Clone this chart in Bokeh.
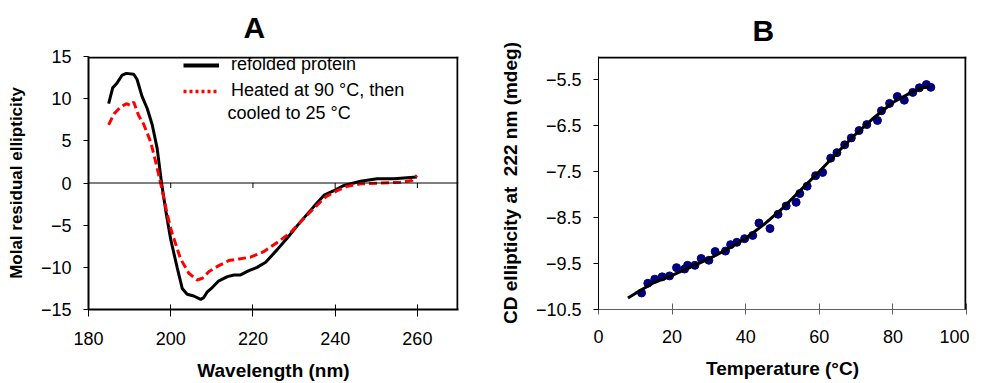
from bokeh.plotting import figure
from bokeh.models import Range1d, FixedTicker, Span, Label, Legend, LegendItem
from bokeh.layouts import row
from bokeh.embed import file_html
from bokeh.resources import INLINE

FONT = "Liberation Sans"

# ---------------- Panel A data ----------------
wl_refolded = [184.9, 185.9, 187.0, 188.2, 189.2, 191.0, 191.8, 193.0, 194.3, 195.5,
               196.7, 197.8, 198.9, 200.0, 201.6, 202.8, 204.0, 205.6, 207.3, 208.0,
               208.9, 210.1, 211.7, 213.8, 215.4, 217.0, 219.0, 221.0, 223.1, 225.9,
               228.4, 231.4, 234.8, 237.3, 239.7, 242.1, 246.2, 250.2, 254.3, 259.9]
mre_refolded = [9.4, 11.3, 11.9, 12.8, 13.0, 12.9, 12.3, 10.3, 8.8, 6.9,
                4.1, -0.1, -3.6, -6.7, -10.1, -12.5, -13.2, -13.4, -13.8, -13.6,
                -12.9, -12.4, -11.6, -11.1, -10.9, -10.9, -10.4, -10.0, -9.4, -7.9,
                -6.5, -4.7, -2.8, -1.45, -0.9, -0.3, 0.2, 0.5, 0.5, 0.7]

wl_heated = [184.9, 186.2, 187.8, 189.2, 190.2, 191.0, 192.2, 193.4, 195.1, 196.3,
             197.5, 199.1, 200.3, 202.4, 204.4, 206.4, 207.7, 209.3, 211.7, 214.1,
             216.6, 219.4, 222.6, 225.9, 229.1, 231.6, 234.8, 237.7, 240.5, 242.9,
             246.2, 251.0, 255.9, 258.7, 259.9]
mre_heated = [6.9, 8.2, 9.0, 9.4, 9.2, 9.6, 8.0, 7.0, 4.9, 2.6,
              0.1, -3.6, -5.9, -9.0, -10.7, -11.5, -11.3, -10.5, -9.8, -9.2,
              -9.0, -8.8, -8.15, -7.05, -5.9, -4.6, -3.0, -1.65, -0.9, -0.4,
              -0.1, 0.0, 0.1, 0.3, 0.9]

xticks_A = [180, 200, 220, 240, 260]
yticks_A = [-15, -10, -5, 0, 5, 10, 15]
zero_ticks_A = [200, 220, 240, 260]

# ---------------- Panel B data ----------------
temp_pts = [11.7, 13.4, 15.3, 17.3, 19.3, 21.2, 23.4, 24.2, 26.2, 27.9,
            30.0, 31.7, 34.5, 35.9, 37.6, 39.7, 41.9, 43.6, 46.6, 48.8,
            51.0, 53.7, 54.7, 56.7, 59.0, 60.9, 63.1, 64.8, 66.9, 68.7,
            70.8, 72.9, 75.8, 76.9, 79.1, 81.2, 83.1, 85.4, 87.2, 89.1, 90.3]
cd_pts = [-10.14, -9.93, -9.84, -9.79, -9.77, -9.59, -9.62, -9.54, -9.54, -9.39,
          -9.43, -9.24, -9.23, -9.09, -9.04, -8.96, -8.89, -8.62, -8.74, -8.43,
          -8.25, -8.17, -7.98, -7.82, -7.59, -7.52, -7.21, -7.09, -6.92, -6.77,
          -6.61, -6.48, -6.39, -6.18, -6.02, -5.87, -5.95, -5.78, -5.68, -5.61, -5.67]

temp_fit = [8, 10, 15, 20, 25, 30, 35, 40, 45, 50, 55, 60, 65, 70, 75, 80, 85, 88, 90]
cd_fit = [-10.25, -10.15, -9.92, -9.76, -9.58, -9.40, -9.19, -8.95, -8.65, -8.30,
          -7.90, -7.50, -7.08, -6.68, -6.32, -6.00, -5.78, -5.68, -5.66]

xticks_B = [0, 20, 40, 60, 80, 100]
yticks_B = [-10.5, -9.5, -8.5, -7.5, -6.5, -5.5]


def style_axes(p, xticks, yticks, xlabel, ylabel, frame_w, frame_h, ylabel_size="17px"):
    p.xgrid.visible = False
    p.ygrid.visible = False
    p.outline_line_color = None
    p.background_fill_color = "white"
    p.border_fill_color = "white"
    xa = p.below[0]
    ya = p.left[0]
    xa.ticker = FixedTicker(ticks=xticks)
    ya.ticker = FixedTicker(ticks=yticks)
    xa.axis_label = xlabel
    ya.axis_label = ylabel
    for ax, sz in ((xa, "19px"), (ya, ylabel_size)):
        ax.major_label_text_font = FONT
        ax.major_label_text_font_size = "18px"
        ax.major_label_text_color = "black"
        ax.axis_label_text_font = FONT
        ax.axis_label_text_font_size = sz
        ax.axis_label_text_font_style = "bold"
        ax.axis_label_text_color = "black"
        ax.minor_tick_line_color = None
        ax.major_label_standoff = 12
        ax.axis_label_standoff = 12
    xa.major_label_standoff = 15
    ya.major_tick_in = 0
    ya.major_tick_out = 5
    # plot-area border on top and right, set 1 px inside the frame edge
    px_x = (p.x_range.end - p.x_range.start) / frame_w
    px_y = (p.y_range.end - p.y_range.start) / frame_h
    p.add_layout(Span(location=p.y_range.end - px_y, dimension="width",
                      line_color="black", line_width=2))
    p.add_layout(Span(location=p.x_range.end - px_x, dimension="height",
                      line_color="black", line_width=2))
    p.title.text_font = FONT
    p.title.text_font_size = "30px"
    p.title.text_font_style = "bold"
    p.title.text_color = "black"
    p.title.align = "left"
    p.title.vertical_align = "top"
    return xa, ya


# ---------------- Panel A ----------------
pA = figure(width=488, height=383, output_backend="svg", toolbar_location=None,
            x_range=Range1d(180, 270), y_range=Range1d(-15, 15), title="A",
            min_border_left=88, min_border_right=30, min_border_top=53, min_border_bottom=71)
xaA, yaA = style_axes(pA, xticks_A, yticks_A, "Wavelength (nm)", "Molal residual ellipticity",
                      370, 259)
pA.title.offset = 155
pA.title.standoff = 21
xaA.axis_line_width = 2
yaA.axis_line_width = 2
xaA.major_tick_in = 5
xaA.major_tick_out = 7

pA.add_layout(Span(location=0, dimension="width", line_color="black", line_width=1))
pA.segment(x0=zero_ticks_A, y0=[0] * len(zero_ticks_A), x1=zero_ticks_A,
           y1=[-0.6] * len(zero_ticks_A), line_color="black", line_width=1)

pA.line(wl_refolded, mre_refolded, line_color="black", line_width=3)
pA.line(wl_heated, mre_heated, line_color="red", line_width=3, line_dash="8 4")

# legend-only renderers (a single point draws no line)
lg_black = pA.line(wl_refolded[:1], mre_refolded[:1], line_color="black", line_width=4)
lg_red = pA.line(wl_heated[:1], mre_heated[:1], line_color="red", line_width=3.5,
                 line_dash="3 3")
legend = Legend(items=[LegendItem(label="refolded protein", renderers=[lg_black]),
                       LegendItem(label="Heated at 90 °C, then", renderers=[lg_red])],
                location=(95, 208), glyph_width=36, glyph_height=20, label_height=20,
                label_standoff=12, spacing=5, padding=0, margin=0,
                border_line_color=None, background_fill_alpha=0,
                label_text_font=FONT, label_text_font_size="18px",
                label_text_color="black")
pA.add_layout(legend)
pA.add_layout(Label(x=139, y=197, x_units="screen", y_units="screen", text="cooled to 25 °C",
                    text_font=FONT, text_font_size="18px", text_align="left",
                    text_baseline="middle", text_color="black"))

# ---------------- Panel B ----------------
pB = figure(width=481, height=383, output_backend="svg", toolbar_location=None,
            x_range=Range1d(0, 100), y_range=Range1d(-10.5, -5.0), title="B",
            min_border_left=110, min_border_right=3, min_border_top=54, min_border_bottom=72)
xaB, yaB = style_axes(pB, xticks_B, yticks_B, "Temperature (°C)",
                      "CD ellipticity at\u00a0 222 nm (mdeg)", 368, 257, ylabel_size="19px")
pB.title.offset = 154
pB.title.standoff = 16
xaB.axis_line_color = "#606060"
xaB.major_tick_line_color = "#606060"
xaB.major_tick_in = 6
xaB.major_tick_out = 5

pB.scatter(temp_pts, cd_pts, size=8, color="#000080")
pB.line(temp_fit, cd_fit, line_color="black", line_width=3)

layout = row(pA, pB)
open("out.html", "w").write(file_html(layout, INLINE))
